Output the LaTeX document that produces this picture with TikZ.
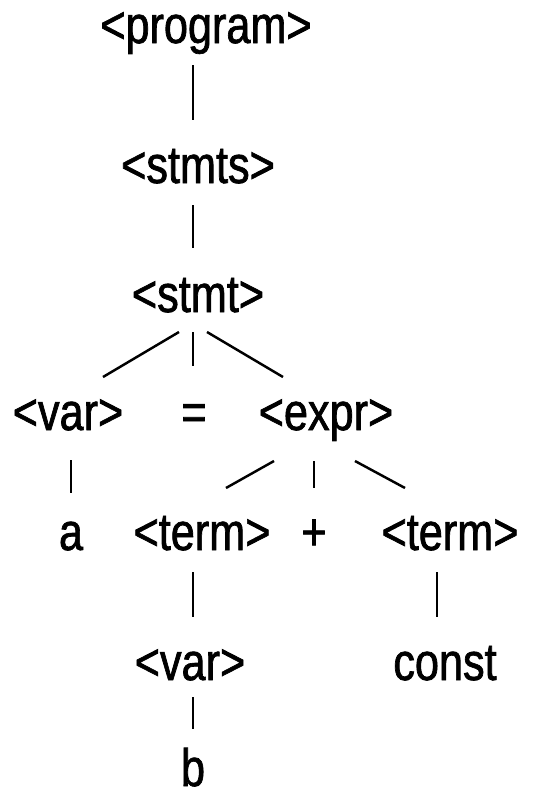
\documentclass[tikz,border=0pt]{standalone}
\usepackage{fontspec}
\newfontfamily\treefont[FakeStretch=0.82,FakeBold=1.3]{Liberation Sans}
\usepackage{tikz}
\usetikzlibrary{calc}

\tikzset{
  sym/.style={anchor=base,inner sep=0pt,font=\treefont\fontsize{30}{36}\selectfont},
  branch/.style={line width=1.4pt}
}

\begin{document}
\begin{tikzpicture}[x=0.02cm,y=-0.02cm]
  \useasboundingbox (0,0) rectangle (550,791);
  % parse tree nodes (pixel grid, base line of each label)
  \node[sym] (prog)  at (206,43)  {<program>};
  \node[sym] (stmts) at (198,183) {<stmts>};
  \node[sym] (stmt)  at (198,312) {<stmt>};
  \node[sym] (varA)  at (68,430)  {<var>};
  \node[sym] (eq)    at (194,430) {=};
  \node[sym] (expr)  at (326,430) {<expr>};
  \node[sym] (a)     at (71,550)  {a};
  \node[sym] (termA) at (202,550) {<term>};
  \node[sym] (plus)  at (314,550) {+};
  \node[sym] (termB) at (450,550) {<term>};
  \node[sym] (varB)  at (190,680) {<var>};
  \node[sym] (const) at (445,680) {const};
  \node[sym] (b)     at (193,786) {b};
  % branches
  \draw[branch] ([shift={(-13,22)}]prog.base) -- ([shift={(-5,-63)}]stmts.base);
  \draw[branch] ([shift={(-5,22)}]stmts.base) -- ([shift={(-5,-64)}]stmt.base);
  \draw[branch] ([shift={(-19,20)}]stmt.base) -- ([shift={(35,-53)}]varA.base);
  \draw[branch] ([shift={(-5,20)}]stmt.base)  -- ([shift={(-1,-64)}]eq.base);
  \draw[branch] ([shift={(9,20)}]stmt.base)   -- ([shift={(-43,-53)}]expr.base);
  \draw[branch] ([shift={(3,30)}]varA.base)   -- ([shift={(0,-57)}]a.base);
  \draw[branch] ([shift={(-52,31)}]expr.base) -- ([shift={(24,-62)}]termA.base);
  \draw[branch] ([shift={(-12,31)}]expr.base) -- ([shift={(0,-62)}]plus.base);
  \draw[branch] ([shift={(29,31)}]expr.base)  -- ([shift={(-45,-62)}]termB.base);
  \draw[branch] ([shift={(-9,22)}]termA.base) -- ([shift={(3,-63)}]varB.base);
  \draw[branch] ([shift={(-13,22)}]termB.base) -- ([shift={(-8,-63)}]const.base);
  \draw[branch] ([shift={(3,17)}]varB.base)   -- ([shift={(0,-57)}]b.base);
\end{tikzpicture}
\end{document}
